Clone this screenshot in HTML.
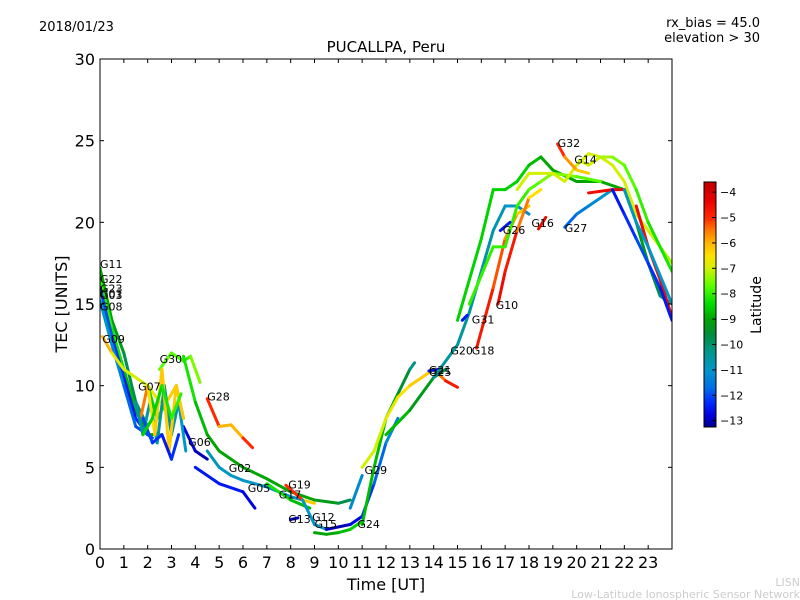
<!DOCTYPE html>
<html><head><meta charset="utf-8"><style>
body{margin:0;background:#fff;}
svg{display:block;font-family:"DejaVu Sans","Liberation Sans",sans-serif;}
</style></head><body>
<svg id="chart" width="800" height="600" viewBox="0 0 800 600">
<defs>
<linearGradient id="jet" x1="0" y1="1" x2="0" y2="0"></linearGradient>
<clipPath id="plotclip"><rect x="100" y="59" width="572" height="490"/></clipPath>
</defs>
<rect x="0" y="0" width="800" height="600" fill="#fff"/>
<text x="39" y="31" font-size="13">2018/01/23</text>
<text x="760" y="27" font-size="13" text-anchor="end">rx_bias = 45.0</text>
<text x="760" y="42" font-size="13" text-anchor="end">elevation &gt; 30</text>
<text x="386" y="52" font-size="15" text-anchor="middle">PUCALLPA, Peru</text>
<g id="marks" clip-path="url(#plotclip)"></g>
<g id="labels"></g>
<rect x="100" y="59" width="572" height="490" fill="none" stroke="#000" stroke-width="1"/>
<g id="axes"></g>
<text transform="translate(67,304) rotate(-90)" font-size="16" text-anchor="middle">TEC [UNITS]</text>
<text x="386" y="590" font-size="16" text-anchor="middle">Time [UT]</text>
<rect x="704" y="182" width="12" height="245" fill="url(#jet)" stroke="#000" stroke-width="1"/>
<g id="cbticks"></g>
<text transform="translate(761,305) rotate(-90)" font-size="14" text-anchor="middle">Latitude</text>
<text x="800" y="586" font-size="11" fill="#ccc" text-anchor="end">LISN</text>
<text x="800" y="598" font-size="11" fill="#ccc" text-anchor="end">Low-Latitude Ionospheric Sensor Network</text>
</svg>
<script>
const xTicks=[0,1,2,3,4,5,6,7,8,9,10,11,12,13,14,15,16,17,18,19,20,21,22,23];
const yTicks=[0,5,10,15,20,25,30];
const cbTicks=[-4,-5,-6,-7,-8,-9,-10,-11,-12,-13];
const trackNames=["G11","G22","G03","G08","G09","G07","G30","G28","G06","GREEN1","G02","G05","G19","G17","G13","G12","G15","G24","RISE1","RISE2","G29","RISE3","G21","G20","G31","G18","G10","BIG1","BIG2","YEL1","G32","G14","G16","G26","G27","RED1","RED2","BLUE1","CYAN1","NOISE1","NOISE2","NOISE3","NOISE4"];
const trackTimes=[
[0,0.5,1,1.5,2],[0,0.5,1,1.5,2,2.5],[0,0.5,1,1.5,2],[0,0.5,1,1.5,2.2],[0.1,0.5,1,2,2.5],
[1.7,2,2.4,2.8,3.2,3.5],[2.5,3,3.5,3.8,4.2],[4.5,5,5.5,6,6.4],[3.5,4,4.5],
[3.5,4,4.5,5,6,7,8,9,10,10.5],[4.5,5,5.5,6,7,8,8.5],[4,5,6,6.5],[7.8,8.5,9],[7,8,8.8],[8,8.3],[8.5,9,9.5],[9,9.5,10,10.5,11],
[9.5,10.5,11,11.5,12,12.5],[11,11.5,12,12.5,13,13.2],[10.5,11],[11,11.5,12,12.5,13,14,14.5,15],[12,13,14,14.5],[13.8,14.2],
[14,15,15.5,16,16.5,17,17.5,18],[15.2,15.4],[15.8,16.5,17,17.5,18],[16.7,17,17.5,18,18.5],
[15,16,16.5,17,17.5,18,18.5,19,20,21,22,22.5,23,23.5,24],[15.5,16.5,17,17.5,18,18.5,19,20,21],
[17.5,18,19,19.5,20,20.5,21,21.5,22,22.5,23,23.5,24],[19.2,19.5,20,20.5],[20.1,20.5,21,21.5,22,22.5,23,24],
[18.4,18.7],[16.8,17.2],[19.5,20,20.5,21,21.5],[20.5,21.5,22],[22.5,23,23.5,24],[21.5,22,22.5,23,23.5,24],[22,22.5,23,24],
[1.5,1.8,2.1,2.4,2.7,3,3.3,3.6],[2,2.3,2.6,2.9,3.2,3.5],[1.8,2.2,2.6,3,3.3],[1.8,2.2,2.6,3,3.4]];
const trackTec=[
[17.2,14,12,9,7.5],[16.5,13.5,11,8.5,7,7],[16,13,10.5,8,7],[15.2,12.5,10,7.5,6.8],[13,12,11,10,9],
[8,10,8,9,10,8],[11,12,11.5,11.8,10.2],[9.2,7.5,7.6,6.8,6.2],[7.5,6,5.5],
[11.8,9,7,6,5,4.3,3.5,3,2.8,3],[6,5,4.5,4.2,3.8,3.2,3],[5,4,3.5,2.5],[3.9,3,2.8],[4,3,2.5],[1.8,1.9],[3,1.5,1.2],[1,0.9,1,1.2,1.7],
[1.2,1.5,2,4,6.5,8],[1.5,5,8,9.5,11,11.4],[2.5,4.5],[5,6,8,9.3,10,11,10.3,9.9],[7,8.5,10.5,11],[10.9,11],
[10.5,12.5,14.5,17,19.5,21,21,20.5],[14,14.3],[12.3,16,19,20.5,21],[15,17,19.5,21.5,22],
[14,19,22,22,22.5,23.5,24,23.2,22.5,22.5,22,20,17.5,15.5,15],[15,18.5,18.5,21,22,22.5,23,22.8,22.5],
[22,23,23,22.5,23.5,24.2,24,23.5,22.5,20.5,19.5,18.5,17.5],[24.8,24,23.2,23],[23.8,23.5,24,24,23.5,22,20,17],
[19.6,20.3],[19.5,20],[19.7,20.5,21,21.5,22],[21.8,22,22],[21,18.5,16.5,14.2],[22,20.5,19,17.5,16,14],[22,20,18.5,15],
[9,7,9,6.5,10,7,9,6],[10,7,11,6,10,8],[8,6.5,7,5.5,7],[7,8,10,8,9.5]];
const trackLat=[
[-9,-9,-9.5,-10,-10],[-8,-8,-8.5,-9,-9,-9],[-12,-12,-12.5,-12.5,-12],[-11,-11,-11.5,-12,-12],[-5.5,-6.5,-7,-7,-6.5],
[-5,-6,-11,-5.5,-7,-11],[-8,-7.5,-8,-8,-7],[-4.5,-5.5,-6.5,-5.5,-4.5],[-12.5,-13,-13],
[-8,-8.5,-9,-9,-9,-9,-9,-9,-9.5,-10],[-10.5,-11,-11,-11,-11,-11,-11],[-12.5,-12.5,-12.5,-13],[-4.5,-5.5,-7],[-8,-8.5,-9],[-13,-13],[-11,-11,-11],[-9,-9,-9,-8.5,-8.5],
[-13,-13,-12.5,-12,-11.5,-11],[-9,-8.5,-9,-9,-10,-10.5],[-11,-11.5],[-7,-7,-7,-6.5,-6.5,-6,-5,-4.5],[-8.5,-9,-9.5,-10],[-12.5,-12.5],
[-10.5,-10.5,-10.5,-10.5,-10.5,-11,-11,-11.5],[-12.5,-12.5],[-4.5,-5,-5.5,-6,-6.5],[-4.5,-4.5,-5,-6,-7],
[-8.5,-8.5,-8.5,-8.5,-8.5,-8.5,-9,-9,-9,-9,-9,-9,-9.5,-10,-10],[-8,-8,-8,-8,-8,-7.5,-7.5,-7.5,-8],
[-7,-7,-7,-7,-7,-7,-7,-7,-7,-7,-7,-7,-7.5],[-4.5,-5.5,-6,-6.5],[-7,-7,-7,-7.5,-7.5,-8,-8,-8.5],
[-4.5,-4.5],[-12.5,-12.5],[-12,-11.5,-11.5,-11,-11],[-4.5,-4.5,-4.5],[-4.5,-4.5,-4.5,-4.5],[-12.5,-12.5,-12,-12,-12.5,-12.5],[-11,-11,-11,-11],
[-10.5,-10.5,-10.5,-10.5,-10.5,-10.5,-11,-11],[-6.5,-6.5,-6,-6.5,-6,-6.5],[-12,-12,-12.5,-12.5,-12],[-8.5,-8.5,-8.5,-8,-8]];
const labelText=["G11","G22","G23","G01","G03","G08","G09","G07","G30","G28","G06","G02","G05","G19","G17","G13","G12","G15","G24","G29","G21","G25","G20","G31","G18","G10","G26","G16","G27","G32","G14"];
const labelT=[0,0,0,0,0,0,0.1,1.6,2.5,4.5,3.7,5.4,6.2,7.9,7.5,7.9,8.9,9.0,10.8,11.1,13.8,13.8,14.7,15.6,15.6,16.6,16.9,18.1,19.5,19.2,19.9];
const labelV=[17.2,16.3,15.7,15.4,15.3,14.6,12.6,9.7,11.4,9.1,6.3,4.7,3.5,3.7,3.1,1.6,1.7,1.3,1.3,4.6,10.7,10.6,11.9,13.8,11.9,14.7,19.3,19.7,19.4,24.6,23.6];

const X=t=>100+t*(572/24), Y=v=>549-v*(490/30);
const vmin=-13.25,vmax=-3.6;
const cm=[[-13.25,[0,0,140]],[-12.8,[0,0,220]],[-12.3,[0,40,255]],[-11.7,[0,110,230]],[-11,[0,150,200]],[-10.3,[0,150,140]],[-9.6,[0,140,60]],[-9,[0,165,0]],[-8.4,[0,220,0]],[-7.7,[90,255,0]],[-7,[210,240,0]],[-6.5,[255,225,0]],[-6,[255,180,0]],[-5.5,[255,120,0]],[-5,[255,40,0]],[-4.3,[230,0,0]],[-3.6,[190,0,0]]];
function jet(l){l=Math.max(vmin,Math.min(vmax,l));for(let i=0;i<cm.length-1;i++){const a=cm[i],b=cm[i+1];if(l<=b[0]){const f=(l-a[0])/(b[0]-a[0]);const c=a[1].map((v,j)=>Math.round(v+(b[1][j]-v)*f));return `rgb(${c[0]},${c[1]},${c[2]})`;}}return 'rgb(190,0,0)';}
const NS='http://www.w3.org/2000/svg';
const grad=document.getElementById('jet');
cm.forEach(s=>{const st=document.createElementNS(NS,'stop');st.setAttribute('offset',(s[0]-vmin)/(vmax-vmin));st.setAttribute('stop-color',`rgb(${s[1].join(',')})`);grad.appendChild(st);});
const marks=document.getElementById('marks');
trackNames.forEach((n,i)=>{
 const g=document.createElementNS(NS,'g');
 
 
 const ts=trackTimes[i],vs=trackTec[i],ls=trackLat[i];
 for(let k=0;k<ts.length-1;k++){
  const s=document.createElementNS(NS,'line');
  s.setAttribute('x1',X(ts[k]));s.setAttribute('y1',Y(vs[k]));s.setAttribute('x2',X(ts[k+1]));s.setAttribute('y2',Y(vs[k+1]));
  s.setAttribute('stroke',jet((ls[k]+ls[k+1])/2));s.setAttribute('stroke-width','3');s.setAttribute('stroke-linecap','round');
  g.appendChild(s);
 }
 marks.appendChild(g);
});
const lab=document.getElementById('labels');
labelText.forEach((n,i)=>{
 const t=document.createElementNS(NS,'text');
 
 
 t.setAttribute('x',X(labelT[i]));t.setAttribute('y',Y(labelV[i]));t.setAttribute('font-size','11');
 t.textContent=n;lab.appendChild(t);
});
const ax=document.getElementById('axes');
function add(tag,attrs,txt){const e=document.createElementNS(NS,tag);for(const k in attrs)e.setAttribute(k,attrs[k]);if(txt!==undefined)e.textContent=txt;ax.appendChild(e);return e;}
xTicks.forEach(t=>{
 const l=add('line',{x1:X(t),x2:X(t),y1:549,y2:545,stroke:'#000'});
 
 
 add('line',{x1:X(t),x2:X(t),y1:59,y2:63,stroke:'#000'});
 const tx=add('text',{x:X(t),y:568,'font-size':16,'text-anchor':'middle'},String(t));
 
 
});
yTicks.forEach(v=>{
 const l=add('line',{x1:100,x2:104,y1:Y(v),y2:Y(v),stroke:'#000'});
 
 
 add('line',{x1:668,x2:672,y1:Y(v),y2:Y(v),stroke:'#000'});
 const tx=add('text',{x:95,y:Y(v)+6,'font-size':16,'text-anchor':'end'},String(v));
 
 
});
const cb=document.getElementById('cbticks');
cbTicks.forEach(v=>{
 const y=182+(vmax-v)/(vmax-vmin)*245;
 const l=document.createElementNS(NS,'line');
 l.setAttribute('x1',712);l.setAttribute('x2',716);l.setAttribute('y1',y);l.setAttribute('y2',y);l.setAttribute('stroke','#000');
 
 
 cb.appendChild(l);
 const t=document.createElementNS(NS,'text');
 t.setAttribute('x',720);t.setAttribute('y',y+4);t.setAttribute('font-size','11');
 t.textContent='\u2212'+Math.abs(v);
 
 
 cb.appendChild(t);
});
</script>
</body></html>
